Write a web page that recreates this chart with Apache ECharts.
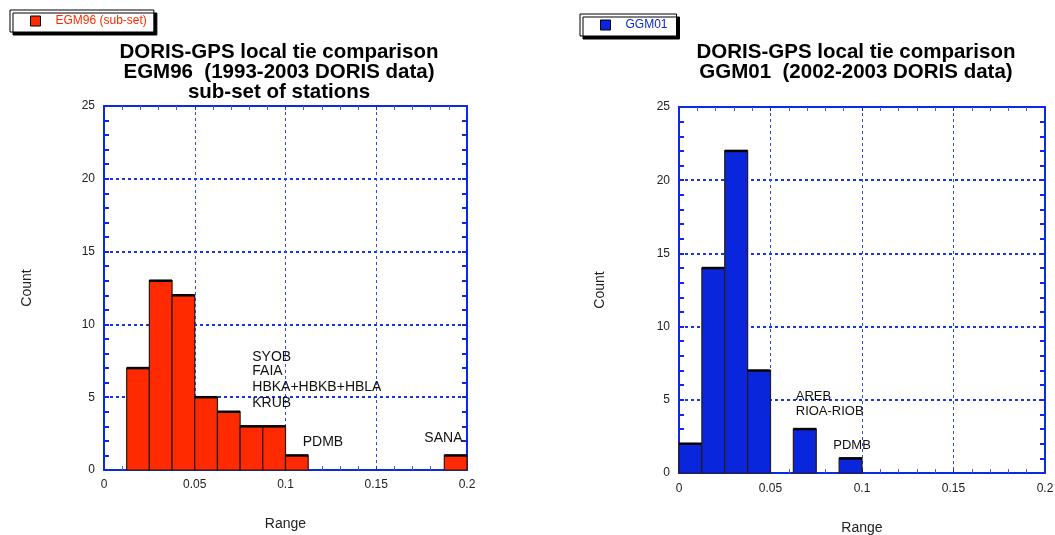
<!DOCTYPE html>
<html>
<head>
<meta charset="utf-8">
<script src="https://cdn.jsdelivr.net/npm/echarts@6/dist/echarts.min.js"></script>
<style>
html,body{margin:0;padding:0;background:#fff;}
#chart{width:1055px;height:535px;}
</style>
</head>
<body>
<div id="chart"></div>
<script>
// ---- data ----
const binWidth = 0.0125;
const binStarts = [0, 0.0125, 0.025, 0.0375, 0.05, 0.0625, 0.075, 0.0875, 0.1, 0.1125, 0.125, 0.1375, 0.15, 0.1625, 0.175, 0.1875];
const egm96Counts = [0, 7, 13, 12, 5, 4, 3, 3, 1, 0, 0, 0, 0, 0, 0, 1];
const ggm01Counts = [2, 14, 22, 7, 0, 3, 0, 1, 0, 0, 0, 0, 0, 0, 0, 0];
const xTicks = [0, 0.05, 0.1, 0.15, 0.2];
const yTicks = [0, 5, 10, 15, 20, 25];
const seriesNames = ['EGM96 (sub-set)', 'GGM01'];
const titles = [
  'DORIS-GPS local tie comparison\nEGM96  (1993-2003 DORIS data)\nsub-set of stations',
  'DORIS-GPS local tie comparison\nGGM01  (2002-2003 DORIS data)'
];
// annotations: label, x, y
const egm96NoteLabels = ['SYOB', 'FAIA', 'HBKA+HBKB+HBLA', 'KRUB', 'PDMB', 'SANA'];
const egm96NoteX = [0.0817, 0.0817, 0.0817, 0.0817, 0.1095, 0.1765];
const egm96NoteY = [7.78, 6.80, 5.68, 4.62, 1.92, 2.22];
const ggm01NoteLabels = ['AREB', 'RIOA-RIOB', 'PDMB'];
const ggm01NoteX = [0.0638, 0.0638, 0.0843];
const ggm01NoteY = [5.21, 4.23, 1.91];

// ---- styles ----
const FONT = '"Liberation Sans", Arial, Helvetica, sans-serif';
const AXIS_BLUE = '#0a2ae6';
const GRID_BLUE = '#1636e6';
const RED = '#ff2a00';
const BLUE = '#0a26dc';

function histData(counts) {
  const out = [];
  counts.forEach((c, i) => { if (c > 0) out.push([binStarts[i], binStarts[i] + binWidth, c]); });
  return out;
}

function barRender(fill) {
  return function (params, api) {
    const x0 = api.value(0), x1 = api.value(1), c = api.value(2);
    const pTop = api.coord([x0, c]);
    const pBot = api.coord([x1, 0]);
    return {
      type: 'group',
      children: [
        { type: 'rect', shape: { x: pTop[0], y: pTop[1], width: pBot[0] - pTop[0], height: pBot[1] - pTop[1] },
          style: { fill: fill, stroke: '#2a1a10', lineWidth: 1.2 } },
        { type: 'line', shape: { x1: pTop[0], y1: pTop[1], x2: pBot[0], y2: pTop[1] },
          style: { stroke: '#000', lineWidth: 2.5 } }
      ]
    };
  };
}

function noteRender(labels, fontSize) {
  return function (params, api) {
    const p = api.coord([api.value(0), api.value(1)]);
    return {
      type: 'text',
      x: p[0], y: p[1],
      style: { text: labels[params.dataIndex], fill: '#111', font: fontSize + 'px ' + FONT, textAlign: 'left', textVerticalAlign: 'middle' }
    };
  };
}

function xAxisDef(gridIndex, mirror, nameGap, labelMargin) {
  return {
    type: 'value', gridIndex: gridIndex, position: mirror ? 'top' : 'bottom',
    min: xTicks[0], max: xTicks[xTicks.length - 1], interval: xTicks[1] - xTicks[0],
    name: mirror ? '' : 'Range', nameLocation: 'middle', nameGap: nameGap,
    nameTextStyle: { fontFamily: FONT, fontSize: 14, color: '#222' },
    axisLine: { show: true, onZero: false, lineStyle: { color: AXIS_BLUE, width: 2 } },
    axisTick: { show: true, inside: true, length: 4, lineStyle: { color: AXIS_BLUE, width: 1 } },
    minorTick: { show: true, splitNumber: 5, length: 4, lineStyle: { color: '#3d5cf0', width: 1 } },
    axisLabel: { show: !mirror, margin: labelMargin, fontFamily: FONT, fontSize: 12, color: '#222' },
    splitLine: { show: !mirror, lineStyle: { color: '#2d4cf0', width: 1, type: [3, 3] } },
    minorSplitLine: { show: false }
  };
}

function yAxisDef(gridIndex, mirror, nameGap) {
  return {
    type: 'value', gridIndex: gridIndex, position: mirror ? 'right' : 'left',
    min: yTicks[0], max: yTicks[yTicks.length - 1], interval: yTicks[1] - yTicks[0],
    name: mirror ? '' : 'Count', nameLocation: 'middle', nameGap: nameGap,
    nameTextStyle: { fontFamily: FONT, fontSize: 14, color: '#222' },
    axisLine: { show: true, onZero: false, lineStyle: { color: AXIS_BLUE, width: 2 } },
    axisTick: { show: true, inside: true, length: 5, lineStyle: { color: AXIS_BLUE, width: 2 } },
    minorTick: { show: true, splitNumber: 5, length: 5, lineStyle: { color: AXIS_BLUE, width: 2 } },
    axisLabel: { show: !mirror, margin: 9, fontFamily: FONT, fontSize: 12, color: '#222' },
    splitLine: { show: !mirror, lineStyle: { color: GRID_BLUE, width: 2, type: [3, 3] } }
  };
}

function legendDef(name, color, left, top, padRight) {
  return {
    data: [name], left: left, top: top, orient: 'horizontal',
    backgroundColor: '#fff', borderColor: '#000', borderWidth: 1,
    shadowColor: '#000', shadowBlur: 0, shadowOffsetX: 3, shadowOffsetY: 3,
    padding: [5, padRight, 5, 20],
    itemWidth: 10, itemHeight: 10, icon: 'rect',
    itemStyle: { borderColor: '#000', borderWidth: 1 },
    textStyle: { fontFamily: FONT, fontSize: 12, color: color, padding: [0, 0, 0, 10] },
    selectedMode: false
  };
}

const chart = echarts.init(document.getElementById('chart'), null, { renderer: 'canvas' });
chart.setOption({
  backgroundColor: '#fff',
  animation: false,
  title: [
    { text: titles[0], left: 279, top: 42, textAlign: 'center', padding: 0,
      textStyle: { fontFamily: FONT, fontSize: 20.5, fontWeight: 'bold', lineHeight: 20, color: '#000' } },
    { text: titles[1], left: 856, top: 42, textAlign: 'center', padding: 0,
      textStyle: { fontFamily: FONT, fontSize: 20.5, fontWeight: 'bold', lineHeight: 20.5, color: '#000' } }
  ],
  legend: [
    legendDef(seriesNames[0], RED, 10, 10, 7),
    legendDef(seriesNames[1], BLUE, 580, 14, 9)
  ],
  grid: [
    { left: 104, top: 106, width: 363, height: 364, show: false, containLabel: false, outerBoundsMode: 'none' },
    { left: 679, top: 107, width: 366, height: 366, show: false, containLabel: false, outerBoundsMode: 'none' }
  ],
  xAxis: [xAxisDef(0, false, 47, 9), xAxisDef(0, true, 0, 9), xAxisDef(1, false, 48, 10), xAxisDef(1, true, 0, 10)],
  yAxis: [yAxisDef(0, false, 70), yAxisDef(0, true, 0), yAxisDef(1, false, 72), yAxisDef(1, true, 0)],
  series: [
    { name: seriesNames[0], type: 'custom', xAxisIndex: 0, yAxisIndex: 0, itemStyle: { color: RED },
      renderItem: barRender(RED), data: histData(egm96Counts), z: 3 },
    { name: seriesNames[1], type: 'custom', xAxisIndex: 2, yAxisIndex: 2, itemStyle: { color: BLUE },
      renderItem: barRender(BLUE), data: histData(ggm01Counts), z: 3 },
    { name: 'egm96-notes', type: 'custom', xAxisIndex: 0, yAxisIndex: 0, renderItem: noteRender(egm96NoteLabels, 14),
      data: egm96NoteX.map((x, i) => [x, egm96NoteY[i]]), z: 4, silent: true },
    { name: 'ggm01-notes', type: 'custom', xAxisIndex: 2, yAxisIndex: 2, renderItem: noteRender(ggm01NoteLabels, 13),
      data: ggm01NoteX.map((x, i) => [x, ggm01NoteY[i]]), z: 4, silent: true }
  ]
});
</script>
</body>
</html>
